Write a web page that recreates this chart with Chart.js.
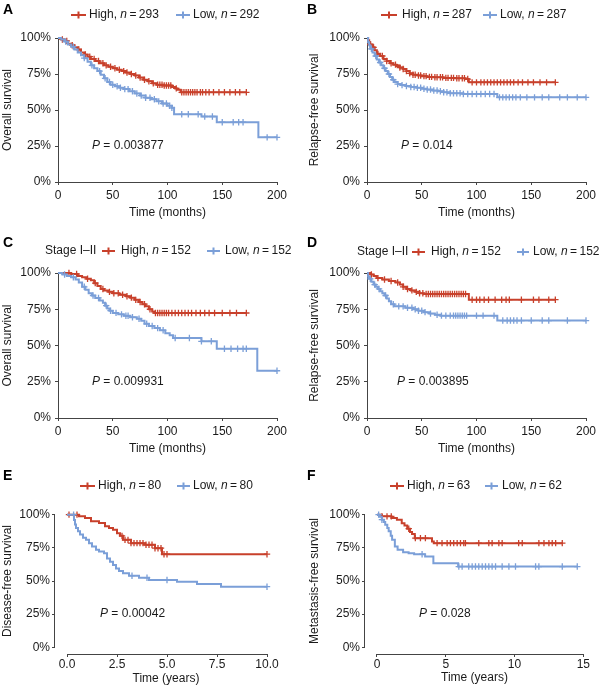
<!DOCTYPE html>
<html>
<head>
<meta charset="utf-8">
<script src="https://cdn.jsdelivr.net/npm/chart.js@4.4.1/dist/chart.umd.min.js"></script>
<style>
  body { margin: 0; background: #fff; width: 600px; height: 690px; position: relative; overflow: hidden; }
  canvas { position: absolute; }
</style>
</head>
<body>
<canvas id="pA" width="300" height="230" style="left:0;top:0"></canvas>
<canvas id="pB" width="300" height="230" style="left:300px;top:0"></canvas>
<canvas id="pC" width="300" height="230" style="left:0;top:230px"></canvas>
<canvas id="pD" width="300" height="230" style="left:300px;top:230px"></canvas>
<canvas id="pE" width="300" height="230" style="left:0;top:460px"></canvas>
<canvas id="pF" width="300" height="230" style="left:300px;top:460px"></canvas>
<script>
// ---- data (survival in %, time in months / years) ----
const nHigh = [293, 287, 152, 152, 80, 63];
const nLow = [292, 287, 152, 152, 80, 62];
const pValues = ["0.003877", "0.014", "0.009931", "0.003895", "0.00042", "0.028"];

const monthTicks = [0, 50, 100, 150, 200];
const monthLabels = ["0", "50", "100", "150", "200"];
const yearTicksE = [0, 2.5, 5, 7.5, 10];
const yearLabelsE = ["0.0", "2.5", "5.0", "7.5", "10.0"];
const yearTicksF = [0, 5, 10, 15];
const yearLabelsF = ["0", "5", "10", "15"];
const pctTicks = [0, 25, 50, 75, 100];
const pctLabels = ["0%", "25%", "50%", "75%", "100%"];

// A: overall survival
const aHighT = [0, 3, 6, 9, 12, 15, 18, 21, 24, 27, 30, 34, 38, 42, 46, 50, 54, 58, 62, 66, 70, 74, 78, 82, 86, 90, 96, 104, 107, 109, 112];
const aHighS = [100, 99, 98, 96, 95, 93.5, 92, 90, 88.5, 87, 85.5, 84, 82.5, 81, 80, 79, 78, 77, 76, 75, 74, 72.5, 71, 70, 68.5, 67.5, 67, 66, 65, 64, 62.3];
const aHighCens = [4, 8, 13, 19, 25, 29, 33, 37, 41, 44, 48, 52, 56, 60, 63, 67, 71, 75, 79, 83, 87, 91, 93, 95, 97, 99, 101, 103, 108, 113, 115, 117, 119, 121, 123, 125, 127, 130, 132, 135, 138, 142, 147, 152, 157, 162, 166, 172];
const aLowT = [0, 3, 6, 9, 12, 15, 18, 21, 24, 27, 30, 33, 36, 39, 42, 45, 48, 52, 56, 60, 65, 70, 75, 80, 85, 90, 95, 100, 104, 106, 131, 145, 183];
const aLowS = [100, 99, 97.5, 95.5, 94, 92, 90, 88, 86, 83.5, 81, 79, 77, 74.5, 72, 69.5, 67.5, 66.5, 65.5, 64.5, 63, 61.5, 60, 58.5, 57.5, 56, 54.5, 53, 51.5, 47, 45.5, 41.5, 31];
const aLowCens = [7, 14, 24, 31, 38, 43, 47, 50, 54, 57, 61, 64, 68, 72, 76, 80, 84, 88, 92, 96, 99, 102, 104, 113, 119, 128, 134, 141, 150, 160, 165, 169, 191, 200];

// B: relapse-free survival
const bHighT = [0, 1, 2, 3, 5, 7, 9, 12, 15, 18, 21, 24, 27, 30, 33, 36, 39, 42, 46, 50, 55, 60, 70, 80, 90, 93];
const bHighS = [100, 98.5, 97, 95.5, 93.5, 91.5, 89, 87.5, 85.5, 84, 82.5, 81.5, 80.5, 79.5, 78.5, 77, 75.5, 74.5, 74, 73.5, 73, 72.7, 72.3, 72, 71.5, 69.2];
const bHighCens = [3, 6, 10, 14, 18, 22, 26, 30, 33, 36, 39, 42, 44, 47, 49, 52, 54, 57, 59, 62, 64, 67, 69, 72, 74, 77, 79, 82, 84, 87, 89, 92, 96, 100, 104, 107, 110, 113, 116, 119, 122, 125, 128, 131, 134, 138, 142, 147, 152, 158, 164, 172];
const bLowT = [0, 1, 2, 3, 5, 7, 9, 11, 13, 15, 17, 19, 21, 23, 25, 28, 31, 35, 40, 45, 50, 55, 60, 65, 70, 76, 88, 119];
const bLowS = [100, 97, 95, 92.5, 90, 87.5, 85, 83, 81, 79, 77, 75, 73, 71, 69.5, 68, 67.3, 66.7, 66, 65.5, 64.8, 64.2, 63.5, 63, 62.3, 61.6, 61.1, 58.8];
const bLowCens = [4, 8, 12, 16, 20, 24, 28, 32, 36, 40, 43, 46, 49, 52, 55, 58, 61, 64, 67, 70, 73, 76, 79, 82, 85, 88, 92, 96, 100, 104, 108, 112, 116, 121, 124, 127, 130, 133, 136, 140, 146, 153, 160, 166, 176, 183, 192, 200];

// C: overall survival, stage I-II
const cHighT = [0, 12, 18, 22, 26, 30, 33, 36, 39, 42, 46, 50, 56, 62, 66, 70, 74, 77, 80, 83, 86, 88];
const cHighS = [100, 99.3, 98, 97, 96, 95, 93, 91, 89, 88, 87, 86, 85, 84, 83, 81.5, 80, 78.5, 77, 75, 73.5, 72.4];
const cHighCens = [10, 17, 27, 34, 41, 47, 51, 55, 59, 63, 67, 71, 75, 79, 84, 89, 91, 93, 95, 97, 99, 101, 104, 107, 110, 113, 116, 119, 122, 126, 130, 134, 138, 143, 150, 157, 163, 172];
const cLowT = [0, 4, 8, 12, 16, 19, 22, 25, 28, 31, 34, 38, 41, 43, 45, 47, 50, 55, 60, 66, 72, 76, 79, 83, 88, 93, 98, 102, 105, 131, 145, 182];
const cLowS = [100, 99, 98, 97, 95.5, 93.5, 90.5, 88.5, 86, 84.5, 82.8, 81, 79.5, 77.5, 75.5, 74, 72.5, 71.5, 70.5, 69.5, 68.5, 67, 65, 63.5, 62, 60.5, 58.5, 57, 55.2, 52.9, 47.8, 32.6];
const cLowCens = [6, 14, 24, 32, 37, 44, 48, 53, 58, 62, 64, 68, 74, 81, 86, 91, 96, 107, 120, 131, 140, 152, 158, 164, 169, 172, 200];

// D: relapse-free survival, stage I-II
const dHighT = [0, 3, 6, 9, 14, 20, 26, 30, 33, 36, 40, 44, 48, 52, 93];
const dHighS = [100, 99, 98, 96.5, 95.5, 94.5, 93.5, 92, 90.5, 89, 88, 87, 86, 85.5, 81.6];
const dHighCens = [4, 10, 16, 22, 28, 33, 37, 41, 45, 48, 51, 54, 56, 58, 60, 62, 64, 66, 68, 70, 72, 74, 76, 78, 80, 82, 84, 86, 88, 90, 96, 100, 103, 107, 111, 117, 123, 127, 130, 141, 152, 157, 166, 172];
const dLowT = [0, 1, 2, 4, 6, 8, 10, 12, 14, 16, 18, 20, 22, 25, 35, 42, 47, 52, 57, 62, 67, 119];
const dLowS = [100, 97.5, 96, 94, 92, 90.5, 89, 87.5, 86, 84.5, 82.5, 80.5, 78.5, 77, 76, 75, 74, 73, 72, 71.2, 70.6, 67.2];
const dLowCens = [3, 7, 11, 17, 24, 29, 33, 37, 41, 44, 47, 50, 53, 58, 64, 68, 72, 76, 79, 81, 83, 85, 87, 89, 91, 100, 106, 116, 124, 128, 131, 134, 137, 141, 150, 160, 166, 183, 200];

// E: disease-free survival (years)
const eHighT = [0, 0.6, 0.9, 1.2, 1.6, 1.9, 2.1, 2.3, 2.5, 2.65, 2.8, 3.2, 3.9, 4.4, 4.75];
const eHighS = [100, 98.7, 97.5, 95, 93.7, 91.2, 90, 88.6, 86, 84, 81, 78.5, 77.3, 74.7, 70.2];
const eHighCens = [0.1, 0.5, 2.75, 2.9, 3.05, 3.2, 3.35, 3.5, 3.65, 3.8, 3.95, 4.1, 4.25, 4.4, 4.55, 4.7, 4.85, 5.0, 10.0];
const eLowT = [0, 0.35, 0.4, 0.45, 0.55, 0.65, 0.8, 0.95, 1.1, 1.25, 1.45, 1.6, 1.85, 2.0, 2.15, 2.3, 2.45, 2.6, 2.8, 3.1, 3.6, 4.1, 5.5, 6.5, 7.7];
const eLowS = [100, 96, 92.5, 90, 87.5, 85, 82.5, 81, 78.5, 76, 73.5, 72.2, 71, 67, 64.5, 62, 59.5, 57.5, 55.8, 54, 52.5, 50.8, 49.5, 47.7, 45.7];
const eLowCens = [0.33, 3.25, 4.0, 5.0, 10.0];

// F: metastasis-free survival (years)
const fHighT = [0, 0.35, 1.05, 1.45, 1.8, 2.0, 2.2, 2.4, 2.55, 2.75, 4.0, 4.13];
const fHighS = [100, 98.7, 97.5, 96.2, 93.5, 91.9, 89.4, 87, 85.4, 82.3, 79.8, 78.5];
const fHighCens = [0.36, 0.73, 1.04, 2.31, 2.79, 3.16, 3.52, 4.37, 4.73, 5.1, 5.34, 5.58, 5.83, 6.07, 6.31, 6.43, 7.4, 8.13, 8.37, 8.86, 9.1, 10.3, 10.56, 11.77, 12.14, 12.5, 12.74, 12.99, 13.47];
const fLowT = [0, 0.2, 0.35, 0.5, 0.6, 0.75, 0.85, 1.0, 1.1, 1.3, 1.5, 1.9, 2.3, 2.7, 3.5, 4.1, 5.9];
const fLowS = [100, 98.5, 96.2, 94.5, 92.4, 90, 87.4, 84, 81, 76, 73.5, 71.7, 71, 70.2, 68.4, 63.4, 60.9];
const fLowCens = [0.12, 0.36, 3.28, 5.95, 6.19, 6.67, 6.92, 7.16, 7.4, 7.65, 7.89, 8.13, 8.37, 8.62, 9.1, 9.59, 10.07, 11.53, 11.77, 13.47, 14.56];

const FONT = "'Liberation Sans', Arial, Helvetica, sans-serif";
const RED = "#c8402b";
const BLUE = "#7b9fd8";
const INK = "#1a1a1a";
const AXIS = "#444";

// survival value of the step curve at time t
function stepValue(ts, ss, t) {
  let s = ss[0];
  for (let i = 0; i < ts.length; i++) {
    if (ts[i] <= t) s = ss[i];
  }
  return s;
}

// line points, carried on to the last censored time
function curvePoints(ts, ss, cens) {
  const pts = ts.map((t, i) => ({ x: t, y: ss[i] }));
  const end = Math.max(ts[ts.length - 1], ...cens);
  pts.push({ x: end, y: ss[ss.length - 1] });
  return pts;
}

function censorPoints(ts, ss, cens) {
  return cens.map(t => ({ x: t, y: stepValue(ts, ss, t) }));
}

function drawRun(ctx, text, x, y, italic) {
  ctx.font = (italic ? "italic " : "") + "12px " + FONT;
  ctx.fillText(text, x, y);
  return x + ctx.measureText(text).width;
}

// letter, legend, P value and (for E, F) floating axis lines
function makeInfoPlugin(cfg) {
  return {
    id: "panelInfo",
    afterDraw(chart) {
      const ctx = chart.ctx;
      ctx.save();
      if (cfg.floatAxes) {
        const xs = chart.scales.x, ys = chart.scales.y;
        const area = chart.chartArea;
        ctx.strokeStyle = AXIS;
        ctx.lineWidth = 1;
        ctx.beginPath();
        ctx.moveTo(xs.getPixelForValue(cfg.xTicks[0]), area.bottom + 0.5);
        ctx.lineTo(xs.getPixelForValue(cfg.xTicks[cfg.xTicks.length - 1]), area.bottom + 0.5);
        ctx.moveTo(area.left - 0.5, ys.getPixelForValue(0));
        ctx.lineTo(area.left - 0.5, ys.getPixelForValue(100));
        ctx.stroke();
      }
      ctx.textBaseline = "middle";
      ctx.textAlign = "left";
      ctx.fillStyle = "#000";
      ctx.font = "bold 14px " + FONT;
      ctx.fillText(cfg.letter, cfg.letterX, cfg.letterY);

      ctx.fillStyle = INK;
      if (cfg.prefix) drawRun(ctx, cfg.prefix, cfg.prefixX, cfg.legendY, false);
      cfg.legend.forEach(item => {
        ctx.strokeStyle = item.color;
        ctx.lineWidth = 2;
        const xm = (item.x1 + item.x2) / 2;
        ctx.beginPath();
        ctx.moveTo(item.x1, cfg.legendY);
        ctx.lineTo(item.x2, cfg.legendY);
        ctx.moveTo(xm, cfg.legendY - 3.5);
        ctx.lineTo(xm, cfg.legendY + 3.5);
        ctx.stroke();
        let x = drawRun(ctx, item.label + ", ", item.tx, cfg.legendY, false);
        x = drawRun(ctx, "n", x, cfg.legendY, true);
        drawRun(ctx, "\u2009=\u2009" + item.n, x, cfg.legendY, false);
      });

      const px = drawRun(ctx, "P", cfg.pX, cfg.pY, true);
      drawRun(ctx, " = " + cfg.p, px, cfg.pY, false);
      ctx.restore();
    }
  };
}

function makePanel(cfg) {
  const W = 300, H = 230, a = cfg.area;
  const [hT, hS, hC] = cfg.high;
  const [lT, lS, lC] = cfg.low;
  const lineStyle = { pointRadius: 0, borderWidth: 2, stepped: true, fill: false, clip: 8 };
  const markStyle = { showLine: false, pointStyle: "cross", pointRadius: 3.2, pointBorderWidth: 1.3, clip: 8 };

  new Chart(document.getElementById(cfg.id), {
    type: "line",
    data: {
      datasets: [
        Object.assign({ data: curvePoints(lT, lS, lC), borderColor: BLUE }, lineStyle),
        Object.assign({ data: censorPoints(lT, lS, lC), pointBorderColor: BLUE, borderColor: BLUE }, markStyle),
        Object.assign({ data: curvePoints(hT, hS, hC), borderColor: RED }, lineStyle),
        Object.assign({ data: censorPoints(hT, hS, hC), pointBorderColor: RED, borderColor: RED }, markStyle)
      ]
    },
    options: {
      responsive: false,
      animation: false,
      devicePixelRatio: 1,
      events: [],
      layout: { padding: { left: 0, top: a.t, right: W - a.r, bottom: 0 } },
      plugins: { legend: { display: false }, tooltip: { enabled: false } },
      scales: {
        x: {
          type: "linear",
          min: cfg.xMin,
          max: cfg.xMax,
          afterBuildTicks: s => { s.ticks = cfg.xTicks.map(v => ({ value: v })); },
          afterFit: s => { s.height = H - a.b; },
          grid: { drawOnChartArea: false, drawTicks: true, tickLength: 3, color: AXIS },
          border: { display: !cfg.floatAxes, color: AXIS, width: 1 },
          ticks: {
            color: INK,
            padding: cfg.floatAxes ? 0 : 3,
            font: { family: FONT, size: 12 },
            maxRotation: 0,
            callback: (v, i) => cfg.xLabels[i]
          },
          title: {
            display: true,
            text: cfg.xTitle,
            color: INK,
            font: { family: FONT, size: 12 },
            padding: { top: 0, bottom: Math.max(0, H - 7.2 - cfg.xTitleY) }
          }
        },
        y: {
          type: "linear",
          min: cfg.yMin,
          max: cfg.yMax,
          afterBuildTicks: s => { s.ticks = pctTicks.map(v => ({ value: v })); },
          afterFit: s => { s.width = a.l; },
          grid: { drawOnChartArea: false, drawTicks: true, tickLength: 3, color: AXIS },
          border: { display: !cfg.floatAxes, color: AXIS, width: 1 },
          ticks: {
            color: INK,
            padding: cfg.floatAxes ? 2 : 4,
            font: { family: FONT, size: 12 },
            callback: (v, i) => pctLabels[i]
          },
          title: {
            display: true,
            text: cfg.yTitle,
            color: INK,
            font: { family: FONT, size: 12 },
            padding: { top: Math.max(0, cfg.yTitleX - 7.2), bottom: 0 }
          }
        }
      }
    },
    plugins: [makeInfoPlugin(cfg)]
  });
}

makePanel({
  id: "pA", letter: "A", letterX: 3, letterY: 10,
  area: { l: 58, r: 277, t: 38, b: 182 },
  xMin: 0, xMax: 200, yMin: 0, yMax: 100,
  xTicks: monthTicks, xLabels: monthLabels,
  yTitle: "Overall survival", xTitle: "Time (months)", yTitleX: 7, xTitleY: 213,
  legendY: 15,
  legend: [
    { color: RED, x1: 71, x2: 86, tx: 89, label: "High", n: nHigh[0] },
    { color: BLUE, x1: 176, x2: 190, tx: 193, label: "Low", n: nLow[0] }
  ],
  pX: 92, pY: 146, p: pValues[0],
  high: [aHighT, aHighS, aHighCens], low: [aLowT, aLowS, aLowCens]
});

makePanel({
  id: "pB", letter: "B", letterX: 7, letterY: 10,
  area: { l: 67, r: 286, t: 38, b: 182 },
  xMin: 0, xMax: 200, yMin: 0, yMax: 100,
  xTicks: monthTicks, xLabels: monthLabels,
  yTitle: "Relapse-free survival", xTitle: "Time (months)", yTitleX: 15, xTitleY: 213,
  legendY: 15,
  legend: [
    { color: RED, x1: 81, x2: 97, tx: 102, label: "High", n: nHigh[1] },
    { color: BLUE, x1: 183, x2: 197, tx: 200, label: "Low", n: nLow[1] }
  ],
  pX: 101, pY: 146, p: pValues[1],
  high: [bHighT, bHighS, bHighCens], low: [bLowT, bLowS, bLowCens]
});

makePanel({
  id: "pC", letter: "C", letterX: 3, letterY: 13,
  area: { l: 58, r: 277, t: 43, b: 188 },
  xMin: 0, xMax: 200, yMin: 0, yMax: 100,
  xTicks: monthTicks, xLabels: monthLabels,
  yTitle: "Overall survival", xTitle: "Time (months)", yTitleX: 7, xTitleY: 219,
  legendY: 21, prefix: "Stage I\u2013II", prefixX: 45,
  legend: [
    { color: RED, x1: 102, x2: 115, tx: 121, label: "High", n: nHigh[2] },
    { color: BLUE, x1: 207, x2: 220, tx: 225, label: "Low", n: nLow[2] }
  ],
  pX: 92, pY: 152, p: pValues[2],
  high: [cHighT, cHighS, cHighCens], low: [cLowT, cLowS, cLowCens]
});

makePanel({
  id: "pD", letter: "D", letterX: 7, letterY: 13,
  area: { l: 67, r: 286, t: 43, b: 188 },
  xMin: 0, xMax: 200, yMin: 0, yMax: 100,
  xTicks: monthTicks, xLabels: monthLabels,
  yTitle: "Relapse-free survival", xTitle: "Time (months)", yTitleX: 15, xTitleY: 219,
  legendY: 22, prefix: "Stage I\u2013II", prefixX: 57,
  legend: [
    { color: RED, x1: 112, x2: 125, tx: 131, label: "High", n: nHigh[3] },
    { color: BLUE, x1: 217, x2: 229, tx: 233, label: "Low", n: nLow[3] }
  ],
  pX: 97, pY: 152, p: pValues[3],
  high: [dHighT, dHighS, dHighCens], low: [dLowT, dLowS, dLowCens]
});

makePanel({
  id: "pE", letter: "E", letterX: 3, letterY: 16, floatAxes: true,
  area: { l: 55, r: 277, t: 48, b: 194 },
  xMin: -0.6, xMax: 10.5, yMin: -5, yMax: 105,
  xTicks: yearTicksE, xLabels: yearLabelsE,
  yTitle: "Disease-free survival", xTitle: "Time (years)", yTitleX: 7, xTitleY: 219,
  legendY: 26,
  legend: [
    { color: RED, x1: 80, x2: 95, tx: 98, label: "High", n: nHigh[4] },
    { color: BLUE, x1: 177, x2: 190, tx: 193, label: "Low", n: nLow[4] }
  ],
  pX: 100, pY: 154, p: pValues[4],
  high: [eHighT, eHighS, eHighCens], low: [eLowT, eLowS, eLowCens]
});

makePanel({
  id: "pF", letter: "F", letterX: 7, letterY: 16, floatAxes: true,
  area: { l: 65, r: 284, t: 48, b: 194 },
  xMin: -0.87, xMax: 15.05, yMin: -5, yMax: 105,
  xTicks: yearTicksF, xLabels: yearLabelsF,
  yTitle: "Metastasis-free survival", xTitle: "Time (years)", yTitleX: 15, xTitleY: 218,
  legendY: 26,
  legend: [
    { color: RED, x1: 90, x2: 104, tx: 107, label: "High", n: nHigh[5] },
    { color: BLUE, x1: 185, x2: 198, tx: 202, label: "Low", n: nLow[5] }
  ],
  pX: 119, pY: 154, p: pValues[5],
  high: [fHighT, fHighS, fHighCens], low: [fLowT, fLowS, fLowCens]
});
</script>
</body>
</html>
